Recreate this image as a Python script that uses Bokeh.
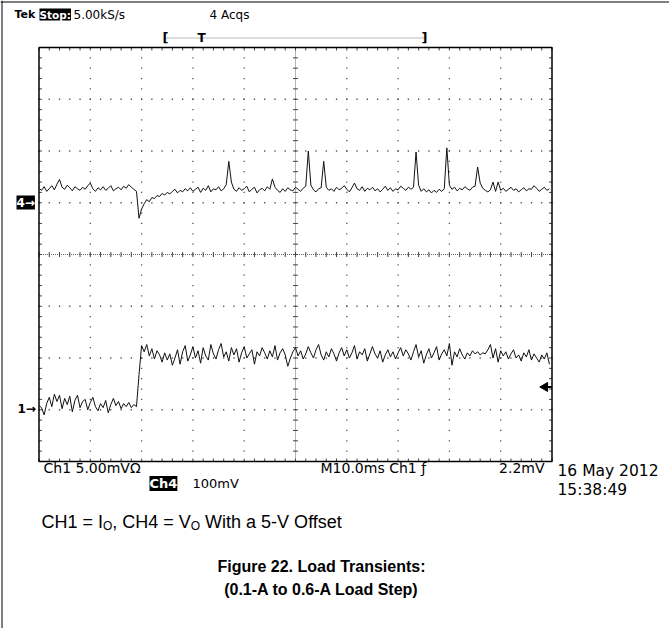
import numpy as np
from bokeh.plotting import figure
from bokeh.models import Range1d, Label
from bokeh.embed import file_html
from bokeh.resources import INLINE

# ---------------- data ----------------
time_per_div_ms = 10.0
t_ms = np.arange(200) * 0.5          # sample times, 0.5 ms apart (0 .. 99.5 ms)

ch1_mV_per_div = 5.0
ch1_ground_div = -3.0
ch1_mV = [
    0.4, 0.2, -0.5, 0.6, 1.2, 0.3, 1.5, 0.8, 1.4, 0.1,
    1.1, 0.5, 1.3, -0.2, 0.9, 1.4, 0.2, 0.8, 1.0, 0.0,
    0.7, 1.2, 0.3, -0.1, 0.6, 0.2, 0.9, -0.3, 0.5, 1.1,
    0.4, 0.8, 0.1, 0.6, 0.3, 0.7, 0.2, 0.5, 0.3, 3.4,
    6.2, 5.6, 6.3, 5.2, 5.9, 4.9, 5.7, 5.3, 4.6, 5.5,
    4.8, 5.4, 4.3, 5.0, 5.8, 4.4, 5.6, 6.2, 4.7, 5.3,
    6.1, 5.0, 5.7, 4.5, 6.0, 5.2, 4.8, 6.3, 5.4, 4.9,
    5.8, 6.4, 5.1, 5.6, 4.7, 6.0, 5.3, 5.9, 4.6, 5.5,
    6.1, 5.0, 5.4, 5.8, 4.4, 5.6, 5.2, 6.0, 5.5, 4.9,
    5.7, 5.1, 6.2, 4.8, 5.5, 5.9, 5.3, 4.2, 5.0, 5.6,
    6.0, 5.2, 5.7, 4.9, 5.4, 6.1, 5.5, 5.0, 5.8, 6.3,
    5.3, 4.8, 5.6, 5.1, 5.9, 5.4, 4.7, 5.5, 6.0, 5.2,
    5.8, 5.0, 5.5, 6.2, 4.9, 5.6, 5.3, 5.9, 4.7, 5.4,
    6.1, 5.4, 5.0, 5.7, 4.6, 5.3, 5.8, 5.1, 5.6, 4.9,
    5.5, 6.0, 5.2, 5.8, 5.4, 4.8, 5.6, 6.3, 5.1, 5.7,
    4.5, 5.3, 5.9, 5.0, 5.5, 6.1, 4.8, 5.4, 5.8, 5.2,
    6.4, 4.3, 5.6, 5.1, 5.9, 5.3, 4.9, 5.5, 5.2, 5.7,
    5.4, 5.6, 5.3, 5.5, 5.4, 5.8, 6.3, 5.0, 5.9, 4.6,
    5.7, 5.2, 5.6, 4.9, 5.4, 5.8, 5.0, 5.3, 4.7, 5.5,
    5.1, 5.8, 4.8, 5.4, 5.0, 4.6, 5.3, 4.9, 5.5, 4.4,
]

ch4_mV_per_div = 100.0
ch4_ground_div = 1.0
ch4_mV = [
    28, 24, 31, 22, 27, 33, 25, 36, 45, 30,
    26, 34, 29, 23, 31, 27, 24, 30, 26, 33,
    38, 27, 22, 29, 25, 31, 24, 28, 33, 23,
    27, 30, 25, 32, 28, 35, 30, 26, 22, -30,
    -12, -2, 6, 2, 10, 8, 14, 12, 18, 15,
    20, 17, 22, 26, 19, 24, 21, 27, 23, 29,
    22, 26, 30, 20, 28, 24, 33, 21, 27, 25,
    31, 23, 27, 35, 80, 40, 26, 22, 29, 24,
    27, 32, 21, 26, 30, 19, 25, 28, 23, 31,
    26, 46, 30, 24, 20, 27, 22, 29, 25, 23,
    30, 26, 22, 28, 32, 100, 34, 25, 21, 27,
    29, 80, 30, 24, 27, 22, 30, 25, 28, 33,
    26, 21, 29, 38, 27, 24, 31, 22, 28, 25,
    30, 23, 27, 21, 26, 32, 24, 29, 22, 27,
    25, 32, 28, 24, 30, 26, 30, 98, 34, 22,
    27, 21, 25, 19, 24, 20, 26, 22, 27, 106,
    34, 26, 30, 23, 28, 25, 31, 27, 24, 30,
    32, 69, 38, 28, 24, 21, 25, 40, 22, 40,
    24, 28, 22, 26, 30, 24, 27, 21, 25, 29,
    23, 27, 26, 33, 28, 22, 26, 30, 24, 27,
]

trigger_mV = 2.2

header_left = ["Tek", "Stop:", "5.00kS/s"]
header_acqs = "4 Acqs"
ch1_label = "Ch1  5.00mV\u03a9"
ch4_tag, ch4_scale = "Ch4", "100mV"
timebase_label = "M10.0ms  Ch1 \u0192"
trigger_label = "2.2mV"
date_label, time_label = "16 May 2012", "15:38:49"
title_lines = ["Figure 22. Load Transients:", "(0.1-A to 0.6-A Load Step)"]

# ---------------- geometry ----------------
n_hdiv, n_vdiv = 10, 8
W, H = 669, 628
GL, GR, GT, GB = 38.5, 551.5, 47.0, 461.0        # graticule box on the canvas (px)
ms_per_px = n_hdiv * time_per_div_ms / (GR - GL)
div_per_px = n_vdiv / (GB - GT)

def fx(X):            # canvas px -> time (ms)
    return (X - GL) * ms_per_px
def fy(Y):            # canvas px -> divisions
    return n_vdiv / 2 - (Y - GT) * div_per_px

p = figure(width=W, height=H, min_border=0,
           x_range=Range1d(fx(0), fx(W)), y_range=Range1d(fy(H), fy(0)),
           x_axis_type=None, y_axis_type=None,
           toolbar_location=None, output_backend="svg")
p.outline_line_color = None
p.background_fill_color = "white"
p.border_fill_color = "white"

# ---------------- graticule ----------------
xmax = n_hdiv * time_per_div_ms
ytop, ybot = n_vdiv / 2, -n_vdiv / 2
minor_t = np.arange(0, n_hdiv * 5 + 1) * time_per_div_ms / 5
minor_v = np.arange(0, n_vdiv * 5 + 1) * 0.2 - n_vdiv / 2
dot_color = "#555555"
for k in range(1, n_hdiv):
    if k == n_hdiv // 2:
        continue
    p.scatter(np.full(minor_v.size, k * time_per_div_ms), minor_v, marker="square",
              size=1.3, fill_color=dot_color, line_color=None)
for k in range(1, n_vdiv):
    if k == n_vdiv // 2:
        continue
    p.scatter(minor_t, np.full(minor_t.size, k - n_vdiv / 2), marker="square",
              size=1.3, fill_color=dot_color, line_color=None)
# centre cross (dense dotted with small ticks)
p.segment(x0=[xmax / 2], y0=[ybot], x1=[xmax / 2], y1=[ytop],
          line_color="#666666", line_dash="1 1", line_width=1)
p.segment(x0=[0], y0=[0], x1=[xmax], y1=[0],
          line_color="#666666", line_dash="1 1", line_width=1)
p.scatter(np.full(minor_v.size, xmax / 2), minor_v, marker="dash", size=5,
          line_color="#444444", line_width=1)
p.scatter(minor_t, np.zeros(minor_t.size), marker="dash", angle=np.pi / 2, size=5,
          line_color="#444444", line_width=1)
# border ticks pointing inward
tick_t = 3 * ms_per_px
tick_v = 3 * div_per_px
p.segment(x0=np.zeros(minor_v.size), y0=minor_v, x1=np.full(minor_v.size, tick_t),
          y1=minor_v, line_color="#444444", line_width=1)
p.segment(x0=np.full(minor_v.size, xmax), y0=minor_v,
          x1=np.full(minor_v.size, xmax - tick_t), y1=minor_v,
          line_color="#444444", line_width=1)
p.segment(x0=minor_t, y0=np.full(minor_t.size, ytop), x1=minor_t,
          y1=np.full(minor_t.size, ytop - tick_v), line_color="#444444", line_width=1)
p.segment(x0=minor_t, y0=np.full(minor_t.size, ybot), x1=minor_t,
          y1=np.full(minor_t.size, ybot + tick_v), line_color="#444444", line_width=1)
# graticule outline
p.quad(left=[0], right=[xmax], bottom=[ybot], top=[ytop], fill_color=None,
       line_color="black", line_width=1.5)

# ---------------- traces ----------------
ch1_y = ch1_ground_div + np.array(ch1_mV) / ch1_mV_per_div
ch4_y = ch4_ground_div + np.array(ch4_mV) / ch4_mV_per_div
p.line(t_ms, ch4_y, line_color="#111111", line_width=1)
p.line(t_ms, ch1_y, line_color="#111111", line_width=1)

# trigger level marker (right edge)
trig_y = ch1_ground_div + trigger_mV / ch1_mV_per_div
p.scatter([fx(544.5)], [trig_y], marker="triangle", angle=np.pi / 2, size=9,
          fill_color="black", line_color="black")
p.segment(x0=[fx(545)], y0=[trig_y], x1=[xmax], y1=[trig_y],
          line_color="black", line_width=2)

# ---------------- texts ----------------
SCOPE_FONT = "DejaVu Sans"
def lab(X, Y, text, size="13px", color="black", bg=None, bold=False,
        align="left", baseline="middle", font=SCOPE_FONT):
    kw = dict(x=fx(X), y=fy(Y), text=text, text_font=font, text_font_size=size,
              text_color=color, text_align=align, text_baseline=baseline,
              text_font_style="bold" if bold else "normal")
    if bg is not None:
        kw["background_fill_color"] = bg
    p.add_layout(Label(**kw))

# ground markers
lab(16, 202, "4\u2192", size="12px", color="white", bg="black", bold=True)
lab(17, 408, "1\u2192", size="12px", bold=True)

# header
lab(14, 14, header_left[0], size="11px", bold=True)
lab(39, 14, header_left[1], size="10.5px", color="white", bg="black", bold=True)
lab(73, 14, header_left[2], size="12px")
lab(209, 14, header_acqs, size="12px")
lab(162, 37, "[", size="13px", bold=True)
lab(201, 37, "T", size="12px", bold=True, align="center")
lab(427, 37, "]", size="13px", bold=True, align="right")
p.segment(x0=[fx(166)], y0=[fy(37.5)], x1=[fx(423)], y1=[fy(37.5)],
          line_color="#777777", line_dash="1 1", line_width=1)

# bottom readouts
lab(43, 467, ch1_label, size="14px")
lab(149, 483, ch4_tag, size="13px", color="white", bg="black", bold=True)
lab(192, 483, ch4_scale, size="13px")
lab(320, 467, timebase_label, size="14px")
lab(544, 467, trigger_label, size="14px", align="right")
lab(557, 470, date_label, size="15.5px")
lab(557, 489, time_label, size="15.5px")

# caption
CAP = "Liberation Sans"
cap_y = 521
segs = [("CH1 = I", 18, 0), ("O", 12, 4), (", CH4 = V", 18, 0), ("O", 12, 4),
        ("With a 5-V Offset", 18, 0)]
widths = [61.5, 9.3, 78.5, 14.3, 142.0]
X = 41
for (txt, fs, dy), w in zip(segs, widths):
    lab(X, cap_y + dy, txt, size=f"{fs}px", baseline="alphabetic", font=CAP)
    X += w

lab(321, 566, title_lines[0], size="16px", bold=True, align="center",
    baseline="alphabetic", font=CAP)
lab(321, 589, title_lines[1], size="16px", bold=True, align="center",
    baseline="alphabetic", font=CAP)

# page frame lines (left & top)
p.segment(x0=[fx(1.5), fx(0)], y0=[fy(0), fy(1.5)], x1=[fx(1.5), fx(W)],
          y1=[fy(H), fy(1.5)], line_color="black", line_width=1)

open("out.html", "w").write(file_html(p, INLINE))
